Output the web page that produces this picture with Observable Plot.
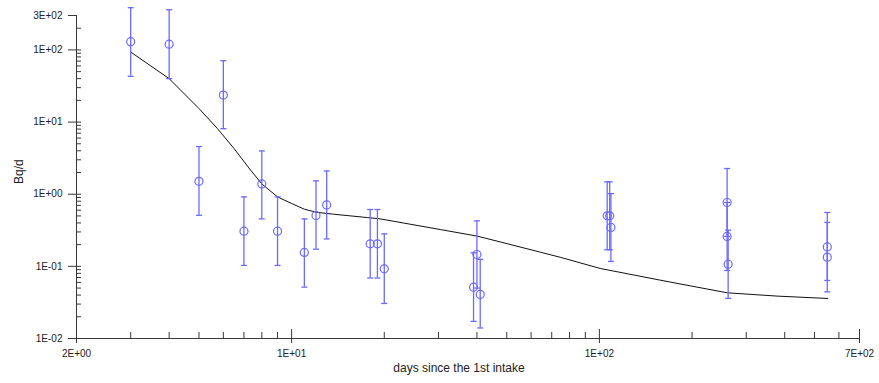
<!DOCTYPE html>
<html><head><meta charset="utf-8">
<script src="https://cdn.jsdelivr.net/npm/d3@7"></script>
<script src="https://cdn.jsdelivr.net/npm/@observablehq/plot@0.6"></script>
<style>html,body{margin:0;padding:0;background:#fff;} svg{display:block}</style>
</head><body><div id="chart"></div>
<script>
// Measurements (days since intake, Bq/d) with lower/upper error bounds
const days   = [3, 4, 5, 6, 7, 8, 9, 11, 12, 13, 18, 19, 20, 39, 40, 41, 106, 108, 109, 260, 260, 262, 550, 550];
const values = [130, 120, 1.51, 23.7, 0.307, 1.39, 0.307, 0.156, 0.507, 0.711, 0.205, 0.205, 0.0923, 0.0515, 0.146, 0.0408, 0.501, 0.501, 0.346, 0.767, 0.26, 0.107, 0.186, 0.134];
const lower  = [43, 40, 0.51, 8.1, 0.103, 0.455, 0.103, 0.0515, 0.173, 0.24, 0.069, 0.069, 0.0306, 0.0173, 0.05, 0.014, 0.17, 0.17, 0.117, 0.26, 0.0877, 0.036, 0.0638, 0.0443];
const upper  = [385, 361, 4.58, 71, 0.918, 3.98, 0.918, 0.455, 1.53, 2.1, 0.614, 0.614, 0.282, 0.154, 0.427, 0.125, 1.48, 1.48, 1.02, 2.27, 0.767, 0.317, 0.558, 0.406];

// Model curve
const curveDays   = [3, 4, 5, 5.74, 6.5, 7.36, 8, 9, 10, 11, 12, 13.7, 17.6, 19.4, 30.4, 40.2, 64.4, 74.9, 100.6, 157.6, 260, 378, 552];
const curveValues = [93.5, 40, 15.4, 8.13, 4.3, 2.15, 1.39, 0.918, 0.743, 0.62, 0.563, 0.528, 0.475, 0.455, 0.324, 0.262, 0.157, 0.133, 0.0935, 0.0644, 0.043, 0.0387, 0.0359];

// Axes
const xTickValues = [2, 10, 100, 700];
const xTickLabels = ["2E+00", "1E+01", "1E+02", "7E+02"];
const xMinorTicks = [3, 4, 5, 6, 7, 8, 9, 20, 30, 40, 50, 60, 70, 80, 90, 200, 300, 400, 500, 600];
const yTickValues = [0.01, 0.1, 1, 10, 100, 300];
const yTickLabels = ["1E-02", "1E-01", "1E+00", "1E+01", "1E+02", "3E+02"];
const yMinorTicks = [0.02,0.03,0.04,0.05,0.06,0.07,0.08,0.09,0.1,0.2,0.3,0.4,0.5,0.6,0.7,0.8,0.9,1,2,3,4,5,6,7,8,9,10,20,30,40,50,60,70,80,90,100,200];
const xTitle = "days since the 1st intake";
const yTitle = "Bq/d";

const points = days.map((d, i) => ({d, v: values[i], lo: lower[i], hi: upper[i]}));
const curve = curveDays.map((d, i) => ({d, v: curveValues[i]}));
const xTicks = xTickValues.map((v, i) => ({v, label: xTickLabels[i]}));
const yTicks = yTickValues.map((v, i) => ({v, label: yTickLabels[i]}));

const blue = "#6a6aff";
const axisColor = "#383838";
const textColor = "#222";
const font = "'Liberation Sans', Arial, sans-serif";
const cap = {draw(ctx) { ctx.moveTo(-3, 0); ctx.lineTo(3, 0); }};

const chart = Plot.plot({
  width: 879,
  height: 383,
  marginTop: 15,
  marginLeft: 76,
  marginRight: 20,
  marginBottom: 45,
  style: {fontFamily: font, fontSize: "10px", background: "white", color: textColor},
  x: {type: "log", domain: [2, 700], label: null},
  y: {type: "log", domain: [0.01, 300], label: null},
  marks: [
    Plot.ruleX([2], {stroke: axisColor}),
    Plot.ruleY([0.01], {stroke: axisColor}),
    // y ticks: outward majors, inward minors
    Plot.axisY(yTickValues, {anchor: "left", tickSize: 8, stroke: axisColor, fill: "none", tickFormat: () => "", label: null}),
    Plot.axisY(yMinorTicks, {anchor: "left", tickSize: 5, dx: 5, stroke: axisColor, fill: "none", tickFormat: () => "", label: null}),
    // x ticks: majors crossing, inward minors
    Plot.axisX(xTickValues, {anchor: "bottom", tickSize: 5, stroke: axisColor, fill: "none", tickFormat: () => "", label: null}),
    Plot.axisX([10, 100, 700], {anchor: "bottom", tickSize: 9, dy: -9, stroke: axisColor, fill: "none", tickFormat: () => "", label: null}),
    Plot.axisX(xMinorTicks, {anchor: "bottom", tickSize: 6, dy: -6, stroke: axisColor, fill: "none", tickFormat: () => "", label: null}),
    // tick labels
    Plot.text(yTicks, {y: "v", text: "label", frameAnchor: "left", textAnchor: "end", dx: -14, fontSize: 10, fill: textColor}),
    Plot.text(xTicks, {x: "v", text: "label", frameAnchor: "bottom", dy: 18, fontSize: 10, fill: textColor}),
    // titles
    Plot.text([yTitle], {frameAnchor: "left", dx: -57, dy: 7, rotate: -90, fontSize: 12, fill: textColor}),
    Plot.text([xTitle], {frameAnchor: "bottom", dx: -9, dy: 33, fontSize: 12, fill: textColor}),
    // data
    Plot.line(curve, {x: "d", y: "v", stroke: "#111", strokeWidth: 1}),
    Plot.ruleX(points, {x: "d", y1: "lo", y2: "hi", stroke: blue, strokeWidth: 1.3}),
    Plot.dot(points, {x: "d", y: "lo", symbol: cap, r: 3, stroke: blue, strokeWidth: 1.3, fill: "none"}),
    Plot.dot(points, {x: "d", y: "hi", symbol: cap, r: 3, stroke: blue, strokeWidth: 1.3, fill: "none"}),
    Plot.dot(points, {x: "d", y: "v", r: 4, stroke: blue, strokeWidth: 1.2, fill: "none"})
  ]
});
document.getElementById("chart").appendChild(chart);
</script>
</body></html>
